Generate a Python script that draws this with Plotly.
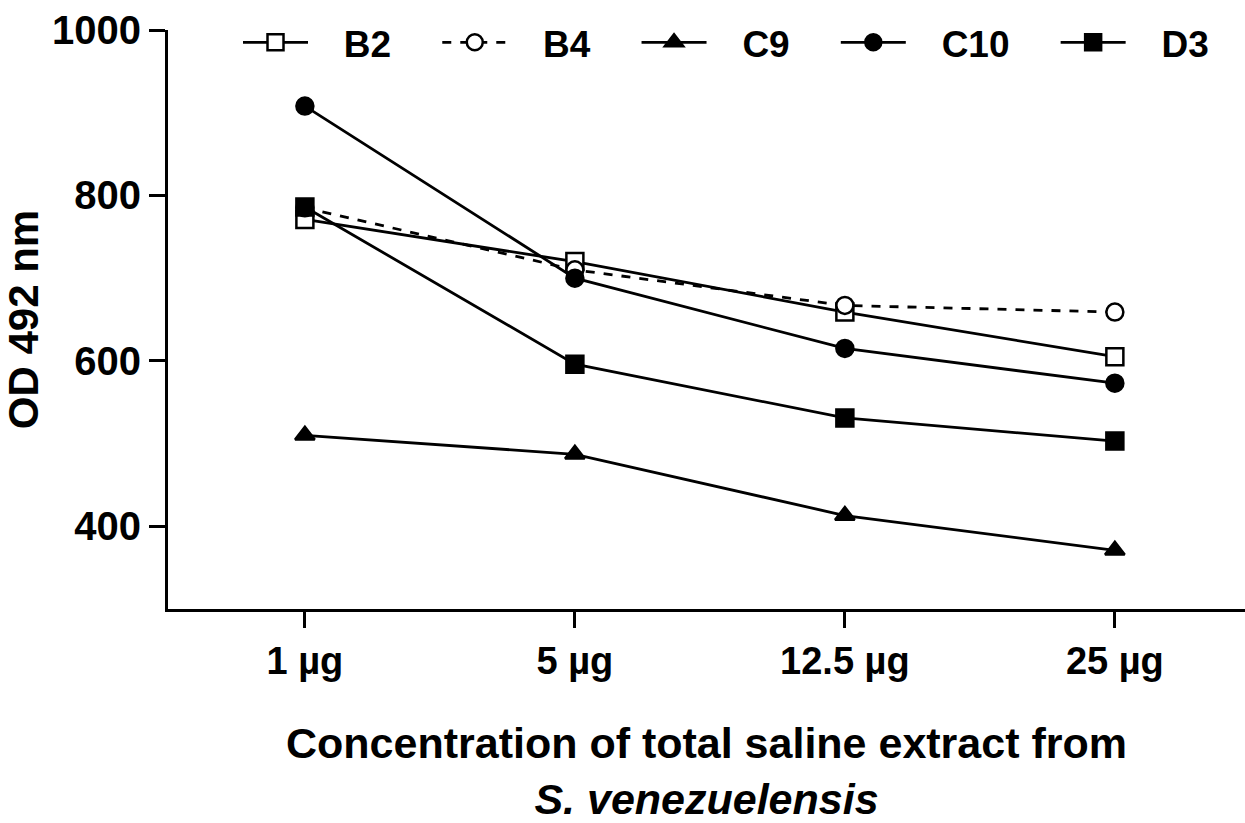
import plotly.graph_objects as go

categories = ["1 µg", "5 µg", "12.5 µg", "25 µg"]
y_ticks = [400, 600, 800, 1000]

B2 = [771, 720, 659, 605]
B4 = [785, 710, 667, 659]
C9 = [510, 487, 413, 371]
C10 = [908, 700, 615, 573]
D3 = [786, 596, 531, 503]

xpos = list(range(len(categories)))

# name, values, symbol, fill colour, dash
series = [
    ("B2", B2, "square", "white", "solid"),
    ("B4", B4, "circle", "white", "dash"),
    ("C9", C9, "triangle-up", "black", "solid"),
    ("C10", C10, "circle", "black", "solid"),
    ("D3", D3, "square", "black", "solid"),
]

FONT = "Liberation Sans, Arial, sans-serif"
NB = "\u00a0"

fig = go.Figure()
for i, (name, vals, sym, fill, dash) in enumerate(series):
    trail = NB * 4 if i < len(series) - 1 else ""
    fig.add_trace(go.Scatter(
        x=xpos, y=vals, name=NB * 3 + name + trail, mode="lines+markers",
        line=dict(color="black", width=2.8, dash=dash),
        marker=dict(symbol=sym, size=17, color=fill,
                    line=dict(color="black", width=2.5)),
    ))

fig.update_layout(
    width=1245, height=823,
    margin=dict(l=168, r=0, t=30, b=211),
    plot_bgcolor="white", paper_bgcolor="white",
    font=dict(family=FONT, size=30, color="black"),
    showlegend=True,
    legend=dict(
        orientation="h", x=0.065, y=0.978, xanchor="left", yanchor="middle",
        font=dict(family=FONT, size=37, color="black", weight="bold"),
        bgcolor="rgba(0,0,0,0)", itemwidth=65,
    ),
)

fig.update_xaxes(
    range=[-0.507, 3.482],
    tickvals=xpos, ticktext=categories,
    showline=True, linecolor="black", linewidth=3,
    ticks="outside", ticklen=16, tickwidth=2.5, tickcolor="black",
    tickfont=dict(family=FONT, size=38, weight="bold"),
    showgrid=False, zeroline=False,
    title=dict(
        text="Concentration of total saline extract from<br><i>S. venezuelensis</i>",
        font=dict(family=FONT, size=43, weight="bold"),
        standoff=55,
    ),
)
fig.update_yaxes(
    range=[300, 1000],
    tickvals=y_ticks,
    showline=True, linecolor="black", linewidth=3,
    ticks="outside", ticklen=16, tickwidth=2.5, tickcolor="black",
    tickfont=dict(family=FONT, size=40, weight="bold"),
    showgrid=False, zeroline=False,
    title=dict(text="OD 492 nm", font=dict(family=FONT, size=42, weight="bold"), standoff=14),
)

fig.write_html("out.html")
